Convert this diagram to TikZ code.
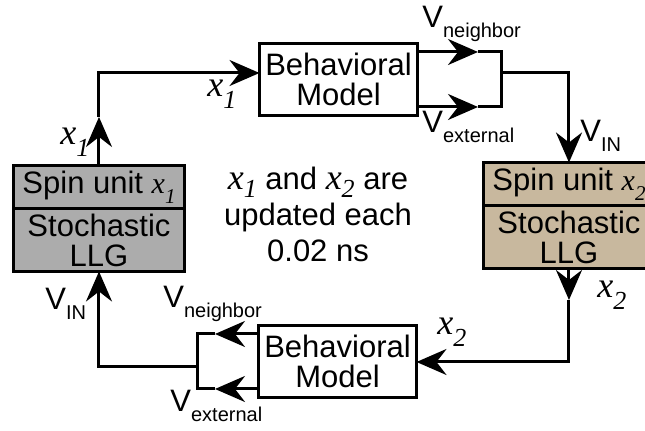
\documentclass[tikz,border=0pt]{standalone}
\usepackage{fontspec}
\setmainfont{Liberation Sans}
\newfontfamily\tms{Liberation Serif}
\usetikzlibrary{arrows.meta}
\usetikzlibrary{positioning}

\definecolor{spingray}{RGB}{172,172,172}
\definecolor{spintan}{RGB}{200,184,158}

\newcommand{\xl}[2][6pt]{{\tms\itshape\fontsize{18}{18}\selectfont x\raisebox{-#1}{\fontsize{13}{13}\selectfont #2}}}
\newcommand{\xb}[1]{{\tms\itshape\fontsize{15}{15}\selectfont x\raisebox{-5pt}{\fontsize{10.5}{10.5}\selectfont #1}}}
\newcommand{\vs}[1]{V\raisebox{-5pt}{\fontsize{10}{10}\selectfont #1}}

\tikzset{
  wire/.style={line width=1.5pt},
  arr/.style={-{Stealth[length=15pt,width=13pt,inset=5pt]}},
  blk/.style={draw, line width=1.5pt, outer sep=0pt, inner sep=0pt, align=center,
    minimum width=79pt, minimum height=36pt},
  spinhalf/.style={draw, line width=1.5pt, outer sep=0pt, inner sep=0pt, align=center,
    minimum width=85.5pt},
  lbl/.style={anchor=base west, inner sep=0pt},
}

\begin{document}
\begin{tikzpicture}[x=0.5pt, y=-0.5pt, font=\fontsize{15.5}{15}\selectfont]
    \clip (0,0) rectangle (645,431);

    \node[spinhalf, fill=spingray, minimum height=21.75pt] (spinAtop) at (99,187.25) {Spin unit \xb{1}};
    \node[spinhalf, fill=spingray, minimum height=31.25pt, below=0pt of spinAtop] (spinAbot) {Stochastic\\LLG};
    \node[spinhalf, fill=spintan, minimum height=21.75pt] (spinBtop) at (569,184.25) {Spin unit \xb{2}};
    \node[spinhalf, fill=spintan, minimum height=31.25pt, below=0pt of spinBtop] (spinBbot) {Stochastic\\LLG};

    \node[blk] (topModel) at (338.5,79.5) {Behavioral\\Model};
    \node[blk] (botModel) at (337.5,361.5) {Behavioral\\Model};

    \coordinate (aUp) at (99,117);
    \coordinate (tl) at (99,73);
    \coordinate (nbA) at (478,52);
    \coordinate (nbB) at (502,52);
    \coordinate (exA) at (478,107);
    \coordinate (exB) at (502,107);
    \coordinate (jn) at (502,73);
    \coordinate (tr) at (569,73);
    \coordinate (rA) at (569,300);
    \coordinate (br) at (569,362);
    \coordinate (nbC) at (215,334);
    \coordinate (nbD) at (198,334);
    \coordinate (exC) at (215,389);
    \coordinate (exD) at (198,389);
    \coordinate (jb) at (198,367);
    \coordinate (bl) at (99,367);

    \draw[wire, arr] (spinAtop.north) -- (aUp);
    \draw[wire, arr] (aUp) -- (tl) -- (topModel.west |- tl);
    \draw[wire, arr] (topModel.east |- nbA) -- (nbA);
    \draw[wire, arr] (topModel.east |- exA) -- (exA);
    \draw[wire] (nbA) -- (nbB) -- (exB) -- (exA);
    \draw[wire, arr] (jn) -- (tr) -- (spinBtop.north);
    \draw[wire, arr] (spinBbot.south) -- (rA);
    \draw[wire, arr] (rA) -- (br) -- (botModel.east |- br);
    \draw[wire, arr] (botModel.west |- nbC) -- (nbC);
    \draw[wire, arr] (botModel.west |- exC) -- (exC);
    \draw[wire] (nbC) -- (nbD) -- (exD) -- (exC);
    \draw[wire, arr] (jb) -- (bl) -- (spinAbot.south);

    \node[lbl] (x1up) at (60,145) {\xl{1}};
    \node[lbl] (x1top) at (207,97) {\xl{1}};
    \node[lbl] (x2right) at (597,298) {\xl{2}};
    \node[lbl] (x2bot) at (437,335) {\xl{2}};
    \node[lbl] (vnbTop) at (422,28) {\vs{neighbor}};
    \node[lbl] (vexTop) at (422,133) {\vs{external}};
    \node[lbl] (vinTop) at (580,142) {\vs{IN}};
    \node[lbl] (vinBot) at (45,310) {\vs{IN}};
    \node[lbl] (vnbBot) at (163,308) {\vs{neighbor}};
    \node[lbl] (vexBot) at (170,412) {\vs{external}};

    \node[align=center, font=\fontsize{15.5}{18}\selectfont] (note) at (318,214)
        {\xl[4pt]{1} and \xl[4pt]{2} are\\updated each\\0.02 ns};
\end{tikzpicture}
\end{document}
